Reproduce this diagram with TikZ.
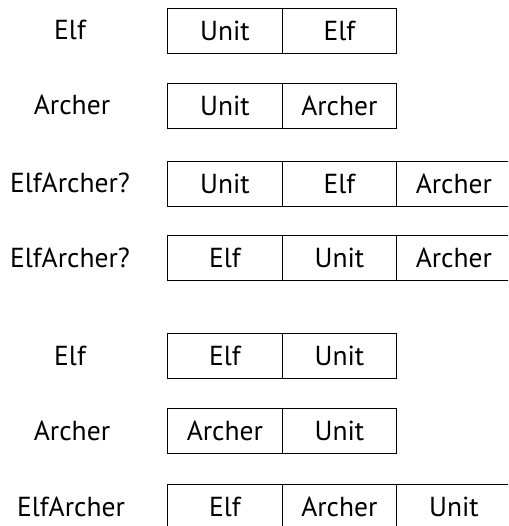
\documentclass[tikz,border=0pt]{standalone}
\usepackage{fontspec}
\setmainfont{PT Sans}
\begin{document}
\begin{tikzpicture}[x=1pt,y=-1pt,
  cell/.style={draw=black,line width=1.3pt,minimum width=114.5pt,minimum height=45pt,inner sep=0pt,
    text height=19pt,text depth=0pt,font=\fontsize{27.5}{32}\selectfont,anchor=north west},
  lbl/.style={inner sep=0pt,text height=19pt,text depth=0pt,font=\fontsize{27.5}{32}\selectfont}]
\useasboundingbox (0,0) rectangle (508,526);
\clip (0,0) rectangle (508,526);
% row 1
\node[lbl] (l1) at (70,30.5) {Elf};
\node[cell] (a1) at (167,8) {Unit};
\node[cell] (b1) at (281.5,8) {Elf};
% row 2
\node[lbl] (l2) at (72,105.5) {Archer};
\node[cell] (a2) at (167,83) {Unit};
\node[cell] (b2) at (281.5,83) {Archer};
% row 3
\node[lbl] (l3) at (70,183) {ElfArcher?};
\node[cell] (a3) at (167,161) {Unit};
\node[cell] (b3) at (281.5,161) {Elf};
\node[cell] (c3) at (396,161) {Archer};
% row 4
\node[lbl] (l4) at (70,257.5) {ElfArcher?};
\node[cell] (a4) at (167,235) {Elf};
\node[cell] (b4) at (281.5,235) {Unit};
\node[cell] (c4) at (396,235) {Archer};
% row 5
\node[lbl] (l5) at (70,355.5) {Elf};
\node[cell] (a5) at (167,333) {Elf};
\node[cell] (b5) at (281.5,333) {Unit};
% row 6
\node[lbl] (l6) at (72,430.5) {Archer};
\node[cell] (a6) at (167,408) {Archer};
\node[cell] (b6) at (281.5,408) {Unit};
% row 7
\node[lbl] (l7) at (71,506.5) {ElfArcher};
\node[cell] (a7) at (167,484) {Elf};
\node[cell] (b7) at (281.5,484) {Archer};
\node[cell] (c7) at (396,484) {Unit};
\end{tikzpicture}
\end{document}
